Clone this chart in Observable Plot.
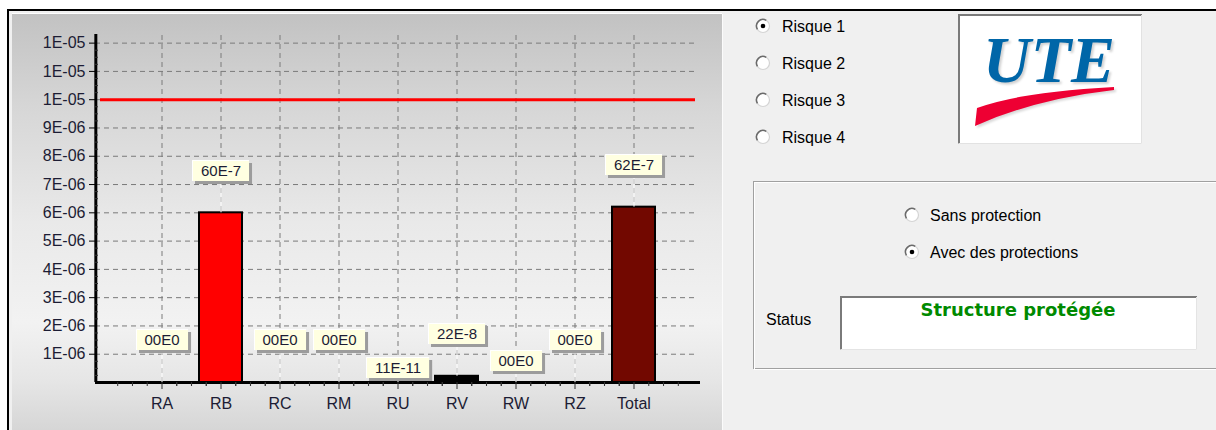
<!DOCTYPE html>
<html>
<head>
<meta charset="utf-8">
<script src="https://cdn.jsdelivr.net/npm/d3@7"></script>
<script src="https://cdn.jsdelivr.net/npm/@observablehq/plot@0.6"></script>
<style>
  html, body { margin: 0; padding: 0; background: #ffffff; }
  #app { position: relative; width: 1216px; height: 430px; overflow: hidden; font-family: "Liberation Sans", Arial, sans-serif; }
  .win { position: absolute; left: 7px; top: 9px; width: 1209px; height: 421px; background: #f0f0f0; border-top: 2px solid #000; border-left: 2px solid #000; box-sizing: border-box; }
  .panel { position: absolute; left: 12px; top: 14px; width: 710px; height: 416px;
           background: linear-gradient(#c2c2c2 0%, #d6d6d6 22%, #e9e9e9 50%, #f2f2f2 74%, #e6e6e6 88%, #d6d6d6 100%);
           box-shadow: 0 -1px 0 #ffffff, 1px 0 0 #fbfbfb; }
  #chart { position: absolute; left: 12px; top: 14px; }
  #deco { position: absolute; left: 0; top: 0; }
</style>
</head>
<body>
<div id="app">
  <div class="win"></div>
  <div class="panel"></div>
  <div id="chart"></div>
  <svg id="deco" width="1216" height="430"></svg>
</div>
<script>
// ---------------- data ----------------
const categories  = ["RA", "RB", "RC", "RM", "RU", "RV", "RW", "RZ", "Total"];
const values      = [0, 6.0e-6, 0, 0, 1.1e-10, 2.2e-7, 0, 0, 6.2e-6];
const valueLabels = ["00E0", "60E-7", "00E0", "00E0", "11E-11", "22E-8", "00E0", "00E0", "62E-7"];
const yTickValues = [1e-6, 2e-6, 3e-6, 4e-6, 5e-6, 6e-6, 7e-6, 8e-6, 9e-6, 1.0e-5, 1.1e-5, 1.2e-5];
const yTickLabels = ["1E-06", "2E-06", "3E-06", "4E-06", "5E-06", "6E-06", "7E-06", "8E-06", "9E-06", "1E-05", "1E-05", "1E-05"];
const threshold   = 1e-5;
const riskOptions = ["Risque 1", "Risque 2", "Risque 3", "Risque 4"];
const protectionOptions = ["Sans protection", "Avec des protections"];
const statusText  = "Structure protégée";

// ---------------- styles / layout ----------------
const barFill   = {RB: "#ff0000", RV: "#000000", Total: "#720800"};
const labelLift = {RU: 14, RW: 21};           // px above bar top (others default)
const defaultLift = 42;
const W = 710, H = 416, mL = 83, mR = 22, mT = 21, mB = 48;
const yMax = 1.227e-5;
const pInner = 0.272, pOuter = 0.756;
const innerH = H - mT - mB;
const unitsPerPx = yMax / innerH;
const step = (W - mL - mR) / (categories.length - pInner + 2 * pOuter);
const bw = step * (1 - pInner);
const textColor = "#1c1c34";

const rows = categories.map((c, i) => ({cat: c, value: values[i], label: valueLabels[i]}));
const labelRows = rows.map(d => ({...d, ly: d.value + (labelLift[d.cat] ?? defaultLift) * unitsPerPx}));
const minorYTicks = d3.range(1, 49).map(k => k * 0.25e-6).filter(v => Math.abs(v / 1e-6 - Math.round(v / 1e-6)) > 1e-9);
const minorOffsets = [-3, -2, -1, 1, 2, 3].map(k => k * step / 4);

const dash = "5,4";
const grid = "#7a7a7a";

const marks = [
  Plot.ruleY(yTickValues, {y: d => d, stroke: grid, strokeDasharray: dash, insetRight: 5}),
  Plot.ruleX(categories, {x: d => d, y1: 0, y2: yMax, stroke: grid, strokeDasharray: dash}),
  Plot.ruleY([threshold], {y: d => d, stroke: "#ff0000", strokeWidth: 3, insetLeft: 5, insetRight: 5}),
  Plot.barY(rows, {x: "cat", y: "value", fill: d => barFill[d.cat] || "none", stroke: "#000", strokeWidth: 2}),
  Plot.ruleY([0], {y: d => d, stroke: "#000", strokeWidth: 3}),
  Plot.ruleX([categories[0]], {x: d => d, y1: 0, y2: yMax + 1 * unitsPerPx, stroke: "#000", strokeWidth: 3, dx: -(step * pOuter + bw / 2)}),
  ...minorOffsets.map(o => Plot.ruleX(categories, {x: d => d, y1: 0, y2: -4 * unitsPerPx, stroke: "#333", strokeWidth: 1, dx: o})),
  Plot.axisX({tickSize: 7, tickPadding: 8, fontSize: 16, fill: textColor, stroke: "#333"}),
  Plot.axisY(yTickValues, {tickSize: 6, tickPadding: 4, tickFormat: (d, i) => yTickLabels[i], fontSize: 16, fill: textColor, stroke: "#000"}),
  Plot.axisY(minorYTicks, {tickSize: -3, tickFormat: () => "", stroke: "#333"}),
  Plot.ruleX(labelRows, {x: "cat", y1: "value", y2: "ly", stroke: "#ffffff", strokeWidth: 1}),
  Plot.text(labelRows, {x: "cat", y: "ly", text: "label", fill: textColor, fontSize: 15})
];

const plot = Plot.plot({
  width: W, height: H,
  marginLeft: mL, marginRight: mR, marginTop: mT, marginBottom: mB,
  style: {background: "transparent", fontFamily: "'Liberation Sans', Arial, sans-serif", fontSize: "15px", color: textColor, overflow: "visible"},
  x: {type: "band", domain: categories, paddingInner: pInner, paddingOuter: pOuter, label: null},
  y: {domain: [0, yMax], label: null},
  color: {type: "identity"},
  marks
});
document.getElementById("chart").appendChild(plot);

// label boxes behind the value labels
(function () {
  const svg = plot.tagName.toLowerCase() === "svg" ? plot : plot.querySelector("svg");
  const sr = svg.getBoundingClientRect();
  const tg = svg.querySelector('g[aria-label="text"]');
  if (!tg) return;
  const ns = "http://www.w3.org/2000/svg";
  const bg = document.createElementNS(ns, "g");
  bg.setAttribute("aria-label", "label boxes");
  tg.parentNode.insertBefore(bg, tg);
  tg.querySelectorAll("text").forEach(t => {
    const r = t.getBoundingClientRect();
    const cx = r.left - sr.left + r.width / 2;
    const cy = r.top - sr.top + r.height / 2;
    const w = r.width + 17, h = 21;
    const x = Math.round(cx - w / 2), y = Math.round(cy - h / 2);
    const mk = (tag, attrs) => { const e = document.createElementNS(ns, tag); for (const k in attrs) e.setAttribute(k, attrs[k]); bg.appendChild(e); return e; };
    mk("rect", {x: x + 3, y: y + 3, width: w, height: h, fill: "#9c9c9c"});
    mk("rect", {x: x, y: y, width: w, height: h, fill: "#ffffe1"});
    mk("path", {d: `M${x + 0.5},${y + h} V${y + 0.5} H${x + w}`, stroke: "#ffffff", fill: "none"});
  });
})();

// ---------------- right-hand panel ----------------
(function () {
  const deco = d3.select("#deco");
  const font = "'Liberation Sans', Arial, sans-serif";
  function radio(cx, cy, checked) {
    const g = deco.append("g");
    g.append("circle").attr("cx", cx).attr("cy", cy).attr("r", 6.5).attr("fill", "#ffffff").attr("stroke", "#d4d4d4").attr("stroke-width", 1.2);
    g.append("path").attr("d", `M${cx - 5.6},${cy + 3.3} A6.5,6.5 0 0 1 ${cx + 3.3},${cy - 5.6}`).attr("fill", "none").attr("stroke", "#6a6a6a").attr("stroke-width", 1.5);
    if (checked) g.append("circle").attr("cx", cx).attr("cy", cy).attr("r", 2.3).attr("fill", "#000");
  }
  riskOptions.forEach((t, i) => {
    const y = 26 + i * 37;
    radio(763, y, i === 0);
    deco.append("text").attr("x", 782).attr("y", y).attr("dy", "0.35em").attr("font-family", font).attr("font-size", 16).attr("fill", "#000").text(t);
  });

  // logo box
  deco.append("rect").attr("x", 958).attr("y", 14).attr("width", 184).attr("height", 130).attr("fill", "#ffffff");
  deco.append("path").attr("d", "M959,143.5 V15 H1142").attr("fill", "none").attr("stroke", "#7a7a7a").attr("stroke-width", 2);
  deco.append("path").attr("d", "M1141.5,15 V143.5 H959").attr("fill", "none").attr("stroke", "#e2e2e2").attr("stroke-width", 1);
  deco.append("text").attr("x", 1049).attr("y", 82).attr("text-anchor", "middle")
    .attr("font-family", "'Liberation Serif', 'Times New Roman', serif").attr("font-style", "italic").attr("font-weight", "bold")
    .attr("font-size", 66).attr("fill", "#0066a8").attr("style", "filter: drop-shadow(2px 2px 1px rgba(0,0,0,0.18))").text("UTE");
  deco.append("path").attr("d", "M977,108 Q1020,92 1114,87 L1114,90 Q1035,99 975,126 Z").attr("fill", "#ee0033")
    .attr("style", "filter: drop-shadow(2px 2px 1px rgba(0,0,0,0.15))");

  // group box
  deco.append("rect").attr("x", 753.5).attr("y", 181.5).attr("width", 480).attr("height", 187).attr("fill", "none").attr("stroke", "#a0a0a0");
  deco.append("rect").attr("x", 754.5).attr("y", 182.5).attr("width", 480).attr("height", 187).attr("fill", "none").attr("stroke", "#ffffff");
  protectionOptions.forEach((t, i) => {
    const y = 215 + i * 37;
    radio(912, y, i === 1);
    deco.append("text").attr("x", 930).attr("y", y).attr("dy", "0.35em").attr("font-family", font).attr("font-size", 16).attr("fill", "#000").text(t);
  });
  deco.append("text").attr("x", 766).attr("y", 319).attr("dy", "0.35em").attr("font-family", font).attr("font-size", 16).attr("fill", "#000").text("Status");
  deco.append("rect").attr("x", 840).attr("y", 296).attr("width", 357).attr("height", 54).attr("fill", "#ffffff");
  deco.append("path").attr("d", "M841,349.5 V297 H1197").attr("fill", "none").attr("stroke", "#7a7a7a").attr("stroke-width", 2);
  deco.append("path").attr("d", "M1196.5,297 V349.5 H841").attr("fill", "none").attr("stroke", "#e4e4e4");
  deco.append("text").attr("x", 1018).attr("y", 310).attr("dy", "0.35em").attr("text-anchor", "middle")
    .attr("font-family", "'DejaVu Sans', Verdana, sans-serif").attr("font-weight", "bold").attr("font-size", 18).attr("fill", "#008a00").text(statusText);
})();
</script>
</body>
</html>
